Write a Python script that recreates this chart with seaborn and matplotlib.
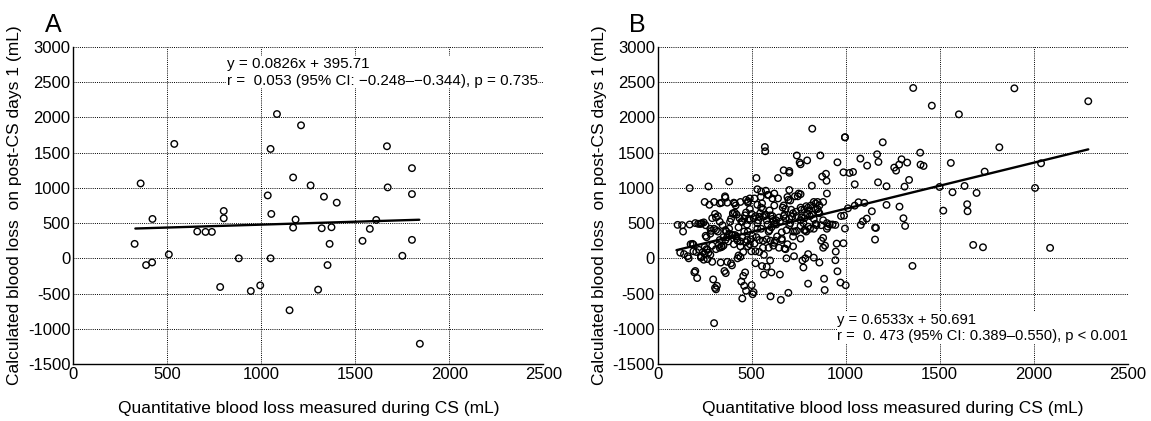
import numpy as np
import pandas as pd
import matplotlib
matplotlib.use("Agg")
import matplotlib.pyplot as plt
import seaborn as sns

# ---------------- data: panel A ----------------
a_x = [326, 358, 387, 419, 421, 508, 537, 659, 703, 737, 781, 800, 800, 880, 944, 994,
       1034, 1049, 1053, 1049, 1083, 1150, 1169, 1169, 1182, 1211, 1262, 1302, 1321, 1333,
       1352, 1363, 1373, 1401, 1538, 1577, 1611, 1668, 1672, 1750, 1801, 1801, 1801, 1843]
a_y = [205, 1063, -96, -58, 559, 55, 1624, 380, 375, 375, -407, 672, 568, 0, -464, -384,
       893, 1553, 630, 0, 2048, -737, 1148, 436, 550, 1888, 1035, -445, 427, 875,
       -96, 205, 441, 790, 248, 418, 545, 1591, 1007, 36, 1280, 912, 262, -1213]

# ---------------- data: panel B ----------------
b_x = [106, 130, 135, 140, 165, 170, 175, 185, 190, 195, 200, 205, 210, 215, 220, 170,
       225, 235, 245, 250, 255, 260, 265, 270, 275, 280, 285, 290, 295, 300, 305, 310,
       245, 230, 250, 265, 280, 300, 255, 240, 290,
       305, 310, 315, 320, 325, 330, 335, 340, 345, 350, 355, 358, 362, 365, 370, 375,
       380, 385, 390, 395, 400, 340, 360, 320, 330, 350, 370, 380, 395, 300,
       405, 410, 415, 420, 425, 430, 435, 440, 445, 450, 455, 460, 465, 470, 475, 480,
       485, 490, 495, 500, 405, 412, 425, 440, 450, 460, 470, 480, 490, 498, 455, 465,
       475, 445, 430,
       505, 510, 515, 520, 525, 530, 535, 540, 545, 550, 555, 560, 565, 570, 572, 575,
       580, 585, 590, 595, 600, 505, 515, 525, 540, 550, 560, 575, 585, 595, 510, 530,
       548, 565, 590, 598,
       605, 610, 615, 620, 625, 630, 635, 640, 645, 650, 655, 660, 665, 670, 675, 680,
       685, 690, 695, 700, 700, 700, 605, 615, 630, 645, 660, 675, 690, 695, 685, 620,
       705, 710, 715, 720, 725, 730, 735, 740, 745, 750, 755, 760, 765, 770, 775, 780,
       785, 790, 795, 800, 800, 785, 760, 790, 800, 705, 720, 740, 765, 775, 795, 760,
       805, 810, 815, 820, 822, 830, 840, 845, 850, 855, 860, 865, 870, 875, 880, 880,
       885, 888, 890, 895, 898, 900, 900, 900, 905, 810, 830, 850,
       915, 930, 975,
       330, 370, 410, 440, 470, 490, 550, 590, 610, 640, 730, 760, 830, 860, 880, 670,
       555, 530, 480, 200, 230, 280, 310, 330, 360, 390, 400, 420, 450, 460, 490, 500,
       520, 530, 560, 570, 580, 600, 610, 620, 650, 670, 680, 700, 720, 740, 760, 780,
       820, 840, 860, 880, 840, 870, 760, 700, 720, 780, 800, 830, 660, 680, 600, 620,
       580, 560, 540, 520, 480, 470, 440, 420, 400, 380, 360, 340, 310, 290, 270, 260,
       250, 230, 190, 160, 120,
       1359, 1458, 1602, 1897, 996, 1197, 1817, 956, 1078, 1114, 1167, 1174, 1258, 1268,
       1284, 1297, 1327, 1396, 1398, 1414, 1559, 2039, 988, 1020, 1039, 1048, 1172, 1217,
       1313, 1337, 1499, 1632, 1696, 1739, 2007, 1568, 1012, 1048, 1068, 1099, 1217, 1286,
       1139, 1112, 1091, 1080, 991, 996, 996, 945, 1156, 1161, 1156, 1307, 1316, 1519,
       1646, 1648, 1678, 1730, 2087, 1355, 988, 952, 947, 945, 956, 972, 1000, 2290]
b_y = [475, 470, 380, 60, 0, 997, 200, 205, 195, -200, -180, 90, -280, 490, 120, 480,
       490, 500, 510, 800, 470, 300, 120, 1020, 760, 50, 390, -50, -300, 800, 630, 580,
       -20, 30, 160, -10, 350, 420, 320, 90, 570,
       -420, -440, -390, 600, 190, 150, -60, 160, 470, 180, -180, 880, -210, 380, 300, 240,
       1090, 520, -70, -100, 630, 790, 860, 380, 260, 300, -50, 420, 330, -920,
       790, 650, 750, 310, 0, 40, 570, 20, -330, -570, -250, -390, -200, -460, 480, 810,
       560, 200, 270, -380, 200, 330, 250, 170, 300, 380, 650, 380, 700, 100, 90, 610,
       260, 520, 440,
       -510, -480, 850, -70, 1140, 980, 540, 590, 640, 720, -110, 590, 50, 1580, 1520, 960,
       -120, 900, 380, 400, -540, 320, 210, 300, 260, 420, 250, 620, 480, 680, 570, 420,
       870, -230, 150, -30,
       -200, 600, 530, 750, 250, 540, 310, 1140, 150, -230, -590, 260, 720, 1250, 140, 570,
       400, 870, -490, 970, 1240, 1215, 440, 180, 480, 580, 370, 620, 200, 830, 0, 920,
       820, 690, 590, 170, 30, 380, 660, 1460, 880, 920, 1360, 1335, 690, -30, -130, 570,
       400, 380, 1390, 60, -360, 0, 280, 740, 720, 500, 310, 390, 580, 500, 630, 460,
       680, 420, 750, 1030, 1840, 10, 780, 470, 700, 660, -60, 1460, 250, 1160, 150, 290,
       -290, -450, 180, 1200, 1100, 920, 420, 500, 450, 600, 560, 800,
       480, 480, 600,
       780, 790, 780, 800, 830, 850, 950, 900, 850, 850, 880, 910, 800, 750, 800, 750,
       780, 760, 790, 500, 490, 420, 400, 520, 400, 560, 640, 620, 520, 560, 540, 630,
       600, 500, 700, 600, 540, 610, 560, 490, 520, 600, 700, 560, 640, 600, 720, 690,
       620, 700, 640, 540, 490, 470, 540, 470, 380, 400, 450, 420, 280, 130, 250, 220,
       270, 150, 90, 100, 170, 230, 240, 280, 330, 350, 260, 170, 130, 180, 80, 130,
       60, 10, 100, 30, 80,
       2418, 2167, 2044, 2413, 1718, 1647, 1576, 1363, 1415, 1316, 1477, 1368, 1288, 1245,
       1330, 1406, 1359, 1500, 1330, 1311, 1354, 1349, 1221, 1212, 1226, 1051, 1079, 1023,
       1018, 1113, 1013, 1027, 928, 1231, 999, 938, 710, 748, 796, 787, 758, 734,
       668, 564, 526, 474, 606, 422, 1718, 474, 436, 432, 266, 569, 460, 677,
       768, 668, 190, 157, 148, -108, 214, 209, 96, -27, -184, -344, -382, 2230]

# regression summaries as printed on the chart
a_slope, a_int, a_xrange = 0.0826, 395.71, [330, 1840]
b_slope, b_int, b_xrange = 0.6533, 50.691, [100, 2290]

a_eq = "y = 0.0826x + 395.71"
a_stat = "r =  0.053 (95% CI: \u22120.248\u2013\u22120.344), p = 0.735"
b_eq = "y = 0.6533x + 50.691"
b_stat = "r =  0. 473 (95% CI: 0.389\u20130.550), p < 0.001"

x_ticks = [0, 500, 1000, 1500, 2000, 2500]
y_ticks = [-1500, -1000, -500, 0, 500, 1000, 1500, 2000, 2500, 3000]
x_label = "Quantitative blood loss measured during CS (mL)"
y_label = "Calculated blood loss  on post-CS days 1 (mL)"

# ---------------- plotting ----------------
sns.set_theme(style="white")
plt.rcParams['font.family'] = ['Liberation Sans', 'DejaVu Sans']
plt.rcParams['axes.unicode_minus'] = False

fig = plt.figure(figsize=(11.51, 4.21), dpi=100)
axA = fig.add_axes([0.0637, 0.1354, 0.4084, 0.7530])
axB = fig.add_axes([0.5714, 0.1354, 0.4084, 0.7530])

dfA = pd.DataFrame({"x": a_x, "y": a_y})
dfB = pd.DataFrame({"x": b_x, "y": b_y})

panels = [
    (axA, dfA, a_slope, a_int, a_xrange, "A", a_eq, a_stat, (815, 2640), 10.9),
    (axB, dfB, b_slope, b_int, b_xrange, "B", b_eq, b_stat, (955, -990), 10.6),
]

for ax, df, slope, icpt, xr, letter, eq, stat, tpos, tfs in panels:
    ax.set_facecolor("white")
    ax.set_xlim(0, 2500)
    ax.set_ylim(-1500, 3000)
    ax.set_xticks(x_ticks)
    ax.set_yticks(y_ticks)
    ax.grid(True, color="black", linestyle=(0, (1, 1.2)), linewidth=0.7)
    ax.set_axisbelow(True)
    for s in ["top", "right"]:
        ax.spines[s].set_visible(False)
    for s in ["left", "bottom"]:
        ax.spines[s].set_color("black")
        ax.spines[s].set_linewidth(1.0)
    ax.tick_params(axis="both", length=0, labelsize=12, colors="black", pad=2)

    sns.scatterplot(data=df, x="x", y="y", ax=ax, marker="o", s=22,
                    facecolors="none", edgecolor="black", linewidth=1.0, zorder=3)
    xs = np.array(xr, dtype=float)
    sns.lineplot(x=xs, y=slope * xs + icpt, ax=ax, color="black", linewidth=1.7, zorder=4)

    ax.set_xlabel(x_label, fontsize=12.5, color="black", labelpad=14)
    ax.set_ylabel(y_label, fontsize=12.5, color="black", labelpad=4)

    ax.text(tpos[0], tpos[1], eq + "\n" + stat, fontsize=tfs, ha="left", va="center",
            linespacing=1.25, color="black", zorder=5,
            bbox=dict(facecolor="white", edgecolor="none", pad=0.5))
    ax.text(-0.06, 1.03, letter, transform=ax.transAxes, fontsize=18,
            ha="left", va="bottom", color="black")

fig.savefig("out.png", dpi=100, facecolor="white")
